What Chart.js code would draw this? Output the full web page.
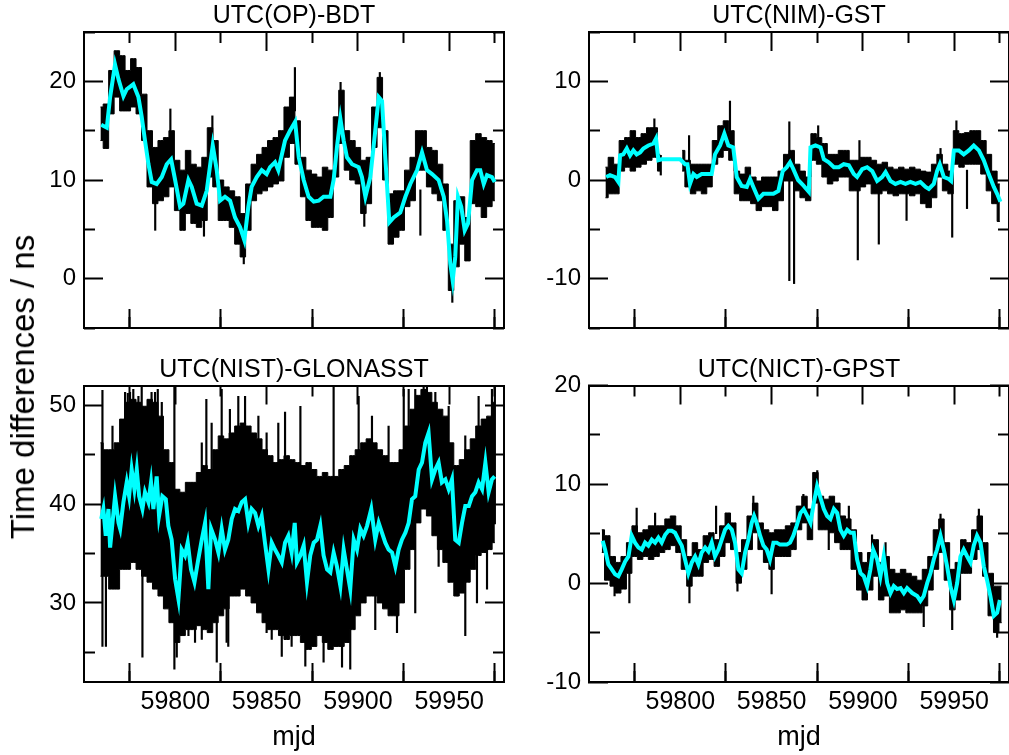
<!DOCTYPE html>
<html>
<head>
<meta charset="utf-8">
<script src="https://cdn.jsdelivr.net/npm/chart.js@4/dist/chart.umd.min.js"></script>
<style>
  body { margin: 0; background: #fff; }
  #page { position: relative; width: 1009px; height: 755px; overflow: hidden; background: #fff; }
  #page canvas { position: absolute; }
  #ylab {
    position: absolute; left: 23px; top: 387px;
    transform: translate(-50%, -50%) rotate(-90deg);
    font-family: "Liberation Sans", Arial, Helvetica, sans-serif;
    font-size: 33px; white-space: nowrap; color: #000;
  }
</style>
</head>
<body>
<div id="page">
  <canvas id="op" width="588" height="340" style="left:0;top:0"></canvas>
  <canvas id="nim" width="588" height="340" style="left:505px;top:0"></canvas>
  <canvas id="nist" width="588" height="415" style="left:0;top:340px"></canvas>
  <canvas id="nict" width="588" height="415" style="left:505px;top:340px"></canvas>
  <div id="ylab">Time differences / ns</div>
</div>
<script>
// axe commun (mjd)
const mjdMin = 59750, mjdMax = 59980;
const mjdMajor = [59800, 59850, 59900, 59950];
const mjdMinor = [59775, 59825, 59875, 59925, 59975];

// grilles des enveloppes (pas de 3 jours)
const gridA = Array.from({ length: 73 }, (_, i) => 59759 + 3 * i);
const gridB = Array.from({ length: 74 }, (_, i) => 59757 + 3 * i);

// ---- UTC(OP)-BDT ----
const opHi = [17.4, 17.7, 21.1, 23.1, 22.6, 21.1, 22.3, 21.4, 18.7, 15.0, 13.3, 14.0, 14.3, 15.0, 12.0, 11.0, 13.0, 11.6, 11.3, 12.3, 15.3, 14.0, 10.0, 9.3, 8.9, 8.3, 6.6, 9.6, 11.6, 12.6, 13.3, 14.0, 14.3, 15.0, 17.4, 18.4,
  16.0, 12.3, 11.0, 10.6, 10.3, 11.3, 11.0, 16.4, 19.1, 15.0, 14.0, 13.3, 12.0, 12.3, 17.4, 20.4, 15.0, 8.6, 8.9, 8.9, 11.0, 12.3, 15.0, 15.0, 13.3, 13.0, 11.6, 9.6, 3.5, 7.9, 8.3, 6.2, 14.0, 14.7, 14.3, 14.0, 13.7];
const opLo = [14.0, 13.2, 16.7, 18.4, 17.0, 17.0, 17.4, 16.7, 14.0, 9.3, 7.6, 7.9, 8.3, 9.3, 6.9, 4.9, 6.6, 5.6, 5.2, 5.9, 10.3, 9.3, 5.9, 5.9, 5.2, 3.5, 2.2, 4.9, 7.9, 8.6, 8.9, 9.3, 9.6, 9.9, 12.3, 13.7,
  11.6, 8.3, 5.9, 5.2, 5.2, 4.9, 6.2, 10.3, 13.7, 11.0, 10.0, 9.6, 6.6, 7.6, 13.3, 15.3, 10.0, 3.5, 4.2, 4.9, 7.3, 7.9, 11.0, 11.0, 9.3, 8.6, 7.9, 4.9, -1.2, 1.2, 3.5, 1.8, 7.6, 7.3, 6.2, 7.3, 7.9];
const opSpikes = [[59789, 4.9, 9.5], [59797.3, 12, 17.2], [59815.7, 4.3, 7], [59820.3, 13, 16.5], [59837.5, 1.5, 4], [59865.5, 17, 21.4],
  [59890.5, 16, 19.9], [59903.5, 5.3, 8], [59912, 18, 20.9], [59934.2, 4.4, 9], [59951.7, -2.4, 0]];
const opMjd = [59759.4, 59762.5, 59764.3, 59767, 59768.9, 59771.6, 59773.4, 59777, 59779.8, 59781.6, 59783.4, 59785.3, 59787.1, 59789.8, 59792.6, 59795.3, 59797.7, 59799.9, 59802.6, 59804.4, 59807.2, 59809, 59811.7, 59814.5, 59817.2, 59820.5, 59822.7, 59824.5, 59827.2, 59830, 59832.7, 59835.5, 59837.8, 59840, 59841.8, 59844.6, 59847.3, 59850, 59851.9, 59854.6, 59856.4, 59860.1, 59862.8, 59865.6,
  59867.6, 59870.3, 59873, 59875.8, 59878.5, 59881.2, 59884.9, 59886.7, 59888.5, 59890.4, 59892.2, 59894, 59896.8, 59900.4, 59902.2, 59904.1, 59906.8, 59909.5, 59911.4, 59913.2, 59915, 59917.2, 59919.6, 59923.2, 59926, 59928.7, 59932.4, 59935.1, 59937.8, 59940.6, 59944.2, 59947, 59948.8, 59950.6, 59951.9, 59953.3, 59954.8, 59956.6, 59958.5, 59960.3, 59962.5, 59965.2, 59967, 59968.9, 59970.7, 59973.4, 59974.9];
const opAvg = [15.6, 15.3, 18.4, 21.7, 20.2, 18.5, 19.2, 19.7, 18.4, 16.4, 14.0, 11.6, 9.8, 9.6, 10.3, 11.6, 12.1, 10.0, 7.3, 7.6, 10.0, 9.3, 7.6, 7.4, 8.9, 13.5, 11.0, 7.9, 8.3, 7.9, 6.2, 5.2, 3.9, 7.3, 9.3, 10.3, 11.0, 10.6, 11.3, 11.8, 11.0, 14.0, 15.0, 15.9,
  12.3, 10.0, 8.3, 7.8, 7.9, 8.3, 8.3, 10.0, 13.3, 16.2, 14.0, 12.3, 11.6, 11.3, 10.3, 8.3, 10.3, 15.0, 18.4, 18.0, 12.3, 5.7, 6.2, 6.7, 8.3, 9.6, 11.0, 12.8, 11.0, 10.6, 10.0, 8.3, 5.9, 1.5, -0.2, 2.2, 8.3, 7.3, 4.9, 5.6, 10.0, 11.0, 11.0, 9.6, 10.5, 10.3, 9.8];

// ---- UTC(NIM)-GST ----
const nimHi = [1.3, 2.3, 1.6, 4.0, 4.3, 5.0, 4.3, 4.7, 5.3, 5.3, 2.6, null, null, null, 3.0, 2.0, 1.6, 1.6, 1.6, 1.6, 4.0, 5.5, 6.0, 5.0, 0.9, 0.6, 1.3, 0.3, -0.1, 0.3, 0.3, 0.3, 0.9, 2.6, 3.0, 1.6, 0.9,
  0.3, 4.7, 4.3, 3.7, 2.6, 2.6, 3.0, 3.0, 2.0, 2.0, 2.3, 2.3, 2.0, 1.6, 1.8, 1.3, 1.1, 1.3, 1.1, 1.3, 1.1, 0.9, 0.8, 1.6, 2.6, 1.6, 0.9, 5.0, 4.7, 4.8, 5.0, 5.0, 4.0, 2.6, 0.9, -0.4];
const nimLo = [-1.8, -1.4, -1.4, 0.9, 1.3, 0.9, 1.3, 1.6, 2.0, 2.3, 0.9, null, null, null, 0.9, -0.7, -1.4, -1.1, -1.4, -0.7, 1.6, 2.3, 3.0, 2.0, -1.4, -2.1, -2.1, -2.4, -3.1, -2.7, -2.7, -3.1, -2.1, -0.1, -0.1, -1.1, -1.8,
  -2.1, 2.0, 1.6, 0.3, -0.4, -0.1, 0.3, 0.3, -1.1, -1.1, -0.7, -0.4, -1.4, -1.4, -1.1, -1.4, -1.6, -1.4, -1.4, -1.6, -1.4, -2.4, -2.8, -1.8, 0.3, -1.1, -1.4, 1.6, 1.3, 1.6, 1.6, 1.6, 0.6, -1.1, -2.4, -4.2];
const nimSpikes = [[59785.8, 3, 6.2], [59789.3, 0.5, 2.5], [59804.8, 1, 4.5], [59827.2, 4, 8.0], [59859.7, -10.2, 5.9], [59862.3, -10.5, 1],
  [59875.5, 3, 5.5], [59897.2, -8.1, 0], [59898.1, 1, 4.0], [59908.7, -6.5, -1], [59923.9, -4.1, -1], [59942.5, 1, 3.2], [59948.9, -5.8, -1],
  [59951.2, 3, 6.0], [59957, -2.9, 1]];
const nimMjd = [59759.4, 59761.5, 59764.3, 59766.1, 59767, 59768.8, 59770.7, 59772.5, 59774.3, 59776.1, 59778, 59779.8, 59782.5, 59785.3, 59786.7, 59788, 59789.8, 59799.9, 59802.6, 59803.9, 59805.3, 59807.2, 59809, 59811.7, 59814.5, 59817.2, 59819, 59821.8, 59824.1, 59826.3, 59829, 59830.9, 59833.6, 59836.4, 59838.2, 59840, 59842.8, 59845.5, 59848.2, 59851, 59853.7, 59856.1, 59858.3, 59860.1, 59861.9, 59864.5,
  59867.6, 59870.4, 59871.3, 59874, 59876.8, 59878.6, 59881.3, 59884.1, 59886.8, 59889.5, 59892.3, 59895, 59896.8, 59899.6, 59902.3, 59905.1, 59907.8, 59910.5, 59912.4, 59915.1, 59917.8, 59920.6, 59923.3, 59926, 59928.8, 59931.5, 59934.3, 59936.1, 59938.8, 59940.6, 59942.1, 59944.3, 59947, 59948.3, 59949.8, 59952.5, 59955.2, 59958, 59960.7, 59963.5, 59966.2, 59968.9, 59971.7, 59973.5, 59975.3];
const nimAvg = [0.3, 0.5, 0.3, -0.2, 2.5, 2.6, 3.2, 2.5, 3.0, 2.6, 2.8, 3.2, 3.5, 3.7, 4.2, 2.0, 2.1, 2.1, 1.6, 1.6, -0.4, 0.6, 0.3, 0.6, 0.6, 0.6, 2.6, 3.5, 4.7, 3.5, 3.3, 0.3, -0.6, -0.7, 0.1, -0.7, -1.9, -1.4, -1.4, -1.4, -1.1, 0.9, 1.3, 1.8, 1.1, 0.0,
  -0.6, -1.2, 3.3, 3.5, 3.3, 2.1, 1.8, 1.3, 1.3, 1.6, 1.5, 0.6, 0.3, 1.1, 1.3, 0.9, -0.1, 0.3, 0.8, -0.1, -0.4, -0.2, -0.4, -0.2, -0.4, -0.2, -0.7, -0.9, -0.4, 0.9, 1.6, 0.3, 0.1, -0.1, 3.0, 3.0, 2.6, 3.0, 3.5, 3.0, 2.0, 0.6, -0.7, -1.4, -2.2];

// ---- UTC(NIST)-GLONASST ----
const nistHi = [46.2, 45.5, 45.5, 46.2, 48.6, 50.3, 50.6, 50.3, 49.9, 50.6, 50.3, 48.9, 45.5, 44.2, 41.5, 41.2, 42.2, 42.2, 43.2, 43.9, 43.5, 45.5, 46.9, 46.6, 47.2, 47.9, 48.2, 47.9, 47.2, 46.6, 45.5, 44.9, 44.2, 44.5, 44.9, 44.5, 44.2,
  43.9, 44.2, 43.5, 42.8, 43.2, 42.8, 42.8, 43.5, 43.9, 44.9, 45.5, 46.2, 46.6, 46.2, 45.5, 44.9, 44.2, 44.2, 45.5, 47.9, 49.6, 51.0, 51.6, 51.3, 50.3, 49.6, 48.9, 46.2, 43.9, 44.5, 45.5, 46.6, 47.9, 48.6, 48.9, 50.3];
const nistLo = [32.7, 32.7, 31.4, 31.4, 33.4, 33.4, 34.1, 33.4, 32.7, 32.1, 31.4, 30.7, 29.4, 28.0, 26.0, 26.7, 27.3, 27.3, 27.7, 27.3, 27.0, 28.0, 28.7, 29.4, 30.7, 30.7, 31.4, 30.7, 30.0, 29.0, 28.0, 27.3, 27.3, 26.7, 26.3, 26.7, 26.7,
  26.0, 25.3, 25.6, 26.7, 26.0, 25.3, 25.6, 25.6, 26.0, 27.3, 28.7, 30.0, 30.7, 30.7, 30.0, 29.4, 28.7, 28.7, 30.0, 33.4, 35.4, 38.1, 39.5, 38.8, 36.8, 35.4, 34.1, 32.1, 30.7, 31.0, 32.1, 33.4, 34.8, 35.1, 35.4, 36.1];
const nistSpikes = [[59760.1, 25.6, 51.5], [59762, 25.6, 35], [59765.6, 33, 47.9], [59772.5, 40, 51.3], [59774, 40, 51.2], [59775.2, 40, 51.3],
  [59777, 40, 51.6], [59779.8, 40, 50.9], [59781.6, 40, 52], [59782, 24.5, 35], [59787, 40, 51.3], [59788.9, 40, 51.3], [59790.4, 40, 51.6],
  [59792.6, 40, 50.3], [59799.5, 23.3, 52], [59800.8, 24.5, 35], [59803.5, 26.7, 35], [59807.2, 26.7, 35], [59810.8, 26.0, 35],
  [59814.5, 26.3, 46.2], [59817, 35, 50.6], [59819.9, 35, 48.2], [59822.7, 24.0, 35], [59825.4, 35, 51.6], [59828.1, 26, 35], [59829, 25.6, 35],
  [59829.9, 35, 49.6], [59834.5, 35, 50.9], [59838.2, 35, 50.9], [59845.5, 35, 48.9], [59850, 27.0, 47.2], [59852.8, 26.3, 35], [59856.4, 35, 48.2],
  [59858.3, 24.6, 35], [59860.1, 35, 49.3], [59863.7, 25.6, 35], [59868.5, 35, 49.9],
  [59871.2, 23.6, 35], [59881.2, 24.0, 35], [59886.7, 35, 52], [59891.3, 23.5, 35], [59895.8, 23.3, 35], [59900.4, 35, 50.9], [59907.7, 35, 48.9],
  [59909.5, 27.3, 35], [59916.8, 35, 47.9], [59921.4, 27.0, 35], [59925.1, 35, 51.6], [59927.8, 35, 51.6], [59931.4, 29.0, 51.6], [59936, 40, 52],
  [59937.8, 40, 52], [59942.4, 40, 51.3], [59944.2, 33.7, 40], [59949.7, 32.1, 49.9], [59954.3, 30.7, 38], [59958.8, 26.7, 46.9],
  [59965.2, 30.0, 38], [59966.1, 38, 50.9], [59970.7, 31.4, 40], [59973.4, 38, 51.6], [59975, 38, 52]];
const nistMjd = [59759.4, 59760.6, 59761.9, 59763.4, 59764.3, 59765.6, 59767, 59768.9, 59769.8, 59771.6, 59773.4, 59774.7, 59776.1, 59777.6, 59778.9, 59780.2, 59782, 59783.4, 59785.3, 59786.7, 59788, 59789.8, 59791.1, 59792.9, 59794.8, 59796.2, 59798, 59799.9, 59801.7, 59803.5, 59805.3, 59806.8, 59808.6, 59810.5, 59812.3, 59814.5, 59816.3, 59818.1, 59819.6, 59821.8, 59823.6, 59825.4, 59827.2, 59829, 59830.9, 59832.7, 59834.5, 59836.4, 59838.2, 59840, 59841.8, 59843.7, 59845.5, 59847.3, 59849.1, 59851, 59852.8, 59854.6, 59856.4, 59858.3, 59860.1, 59861.9, 59863.7,
  59865.4, 59866.6, 59868.5, 59870.3, 59872.1, 59873.9, 59875.8, 59877.6, 59879.4, 59881.2, 59883.1, 59884.9, 59886.7, 59888.5, 59890.4, 59892.2, 59894, 59895.8, 59897.7, 59899.5, 59901.3, 59903.1, 59905, 59907.3, 59909.5, 59911.4, 59913.2, 59915, 59916.8, 59918.7, 59920.5, 59922.3, 59924.1, 59926, 59927.8, 59929.6, 59931.4, 59933.3, 59935.1, 59936.9, 59938.7, 59940.6, 59942.4, 59944.2, 59946, 59947.9, 59949.7, 59951.5, 59953.3, 59955.2, 59957, 59958.8, 59960.7, 59962.5, 59964.3, 59966.1, 59968, 59969.8, 59971.6, 59973.4, 59974.9];
const nistAvg = [38.5, 39.5, 36.8, 39.5, 35.6, 38.1, 40.8, 38.1, 37.5, 40.2, 42.2, 40.8, 43.5, 41.5, 43.5, 40.8, 39.5, 41.2, 40.2, 42.2, 39.5, 42.8, 38.8, 40.8, 40.5, 37.8, 36.4, 32.4, 30.4, 35.4, 34.8, 36.1, 33.4, 32.1, 34.1, 36.4, 38.1, 31.4, 37.5, 36.4, 35.1, 37.5, 35.4, 36.4, 38.5, 39.5, 39.3, 40.2, 40.5, 38.1, 39.5, 39.1, 37.8, 38.8, 36.1, 33.4, 36.1, 35.4, 34.8, 34.1, 36.1, 36.8, 35.1,
  38.1, 34.1, 34.8, 35.8, 32.1, 34.8, 36.1, 36.4, 37.8, 34.8, 33.4, 33.1, 35.1, 33.7, 31.7, 35.4, 33.4, 31.4, 36.4, 35.4, 37.5, 36.8, 37.8, 39.5, 36.4, 38.1, 37.1, 36.1, 35.4, 35.1, 33.7, 35.4, 36.4, 37.1, 38.1, 40.5, 40.8, 43.5, 44.2, 46.2, 47.2, 42.5, 43.5, 44.2, 42.2, 42.5, 41.5, 42.5, 36.4, 36.1, 38.1, 39.8, 39.8, 40.8, 41.2, 42.2, 41.5, 44.2, 41.2, 42.5, 42.8];

// ---- UTC(NICT)-GPST ----
const nictHi = [5.4, 4.8, 2.7, 2.1, 2.7, 4.1, 5.8, 5.1, 5.4, 5.8, 5.8, 5.8, 6.5, 6.8, 5.8, 4.4, 2.7, 4.1, 3.4, 4.8, 5.1, 4.4, 5.8, 7.1, 6.1, 3.1, 4.4, 6.8, 8.1, 6.1, 5.4, 5.1, 5.4, 5.4, 5.8, 6.1, 7.8, 8.8,
  7.5, 11.2, 8.8, 8.5, 8.8, 8.1, 6.8, 6.5, 5.4, 3.1, 2.1, 3.1, 4.4, 2.1, 2.7, 1.4, 1.0, 1.4, 1.0, 0.7, 0.3, 1.4, 2.7, 5.4, 6.5, 4.1, 1.4, 2.1, 4.4, 4.1, 5.4, 6.8, 4.1, 1.0, -0.3, -0.3];
const nictLo = [3.1, 0.3, -0.3, -1.0, -0.6, 1.0, 2.7, 2.4, 2.7, 2.4, 2.7, 3.1, 3.4, 3.8, 3.1, 1.4, -0.3, 0.7, 0.7, 2.1, 2.4, 1.7, 2.7, 4.1, 3.4, 0.0, 1.4, 3.4, 5.1, 3.4, 2.1, 1.4, 2.7, 2.7, 2.7, 3.4, 5.4, 6.1,
  4.4, 8.1, 5.4, 5.4, 5.1, 4.1, 3.4, 3.4, 1.4, -0.7, -1.7, -0.7, 0.7, -1.7, -1.3, -3.0, -3.0, -2.7, -3.0, -3.0, -3.0, -2.3, -0.7, 1.4, 3.1, 0.3, -2.7, -1.7, 1.0, 1.0, 2.4, 3.4, 0.7, -3.3, -5.0, -4.0];
const nictSpikes = [[59764, -1.3, 0.5], [59772.1, -2.0, 1], [59776.1, 5, 7.6], [59786.2, 5, 7.1], [59805, -2.0, 0], [59819.6, 5, 7.8],
  [59831.3, -0.8, 1], [59840, 7, 8.8], [59850, -1.1, 1.5], [59867.4, 8, 9.0], [59875, 10, 11.4], [59881.3, 3.4, 5.5], [59892.3, 6, 7.8],
  [59905, 3.5, 4.9], [59912.4, 2.5, 4.1], [59933.3, -4.4, -2], [59942.5, 6, 7.0], [59948.9, -4.7, -2], [59963.5, 6, 7.5], [59973.5, -5.5, -4]];
const nictMjd = [59757.5, 59758.8, 59760.6, 59762.5, 59764.3, 59766.1, 59767.9, 59769.8, 59771.6, 59773.4, 59775.2, 59777.1, 59778.9, 59780.7, 59782.5, 59784.4, 59786.2, 59788, 59789.8, 59791.7, 59793.5, 59795.3, 59797.1, 59799, 59800.8, 59802.6, 59804.4, 59806.3, 59808.1, 59809.9, 59811.7, 59813.6, 59815.4, 59817.2, 59819, 59820.9, 59822.7, 59824.5, 59826.3, 59828.2, 59830, 59831.8, 59833.6, 59835.5, 59837.3, 59839.1, 59840.4, 59841.8, 59843.7, 59845.5, 59847.3, 59849.1, 59851, 59852.8, 59854.6, 59856.4, 59858.3, 59860.1, 59861.9, 59863.7,
  59865.8, 59867.6, 59869.5, 59871.3, 59873.1, 59874.9, 59876.8, 59878.6, 59880.4, 59882.2, 59884.1, 59885.9, 59887.7, 59889.5, 59891.4, 59893.2, 59895, 59896.8, 59898.7, 59900.5, 59902.3, 59904.1, 59905.6, 59907.8, 59909.6, 59911.4, 59913.3, 59915.1, 59916.9, 59918.7, 59920.6, 59922.4, 59924.2, 59927, 59929.7, 59931.5, 59933.3, 59935.2, 59937, 59938.8, 59940.6, 59942.5, 59944.3, 59946.1, 59947.9, 59949.8, 59951.6, 59953.4, 59955.2, 59957.1, 59958.9, 59960.7, 59962.5, 59964.4, 59966.2, 59968, 59969.8, 59971.7, 59973.5, 59975];
const nictAvg = [4.3, 3.4, 1.9, 1.4, 0.9, 0.7, 1.4, 2.2, 2.7, 4.8, 4.1, 3.6, 3.4, 4.1, 3.8, 4.4, 4.1, 4.6, 4.1, 4.9, 5.3, 5.3, 5.1, 4.4, 3.8, 2.4, 1.0, 2.1, 2.7, 1.9, 3.1, 3.6, 3.2, 4.1, 2.7, 3.4, 4.4, 5.4, 5.8, 5.4, 4.1, 1.4, 1.0, 3.1, 4.4, 6.1, 6.8, 6.1, 4.8, 3.8, 3.4, 2.4, 4.1, 4.1, 3.9, 3.9, 3.9, 4.1, 4.8, 5.8,
  7.1, 7.5, 6.8, 6.1, 8.1, 9.8, 8.6, 7.5, 6.8, 6.5, 7.5, 7.1, 5.4, 4.8, 5.4, 5.1, 5.1, 2.4, 1.0, 0.7, -0.3, 1.4, 3.4, 2.4, 0.7, 2.7, 0.0, -1.0, -0.3, -0.6, -0.5, -1.0, -0.5, -1.0, -1.3, -1.8, -1.3, 0.0, 1.0, 2.4, 3.4, 4.8, 3.4, 1.7, -0.3, -1.7, 0.0, 2.7, 3.4, 2.7, 2.1, 3.8, 4.8, 4.1, 1.7, 0.3, -1.3, -3.3, -3.0, -1.7];

const FONT = '"Liberation Sans", Arial, Helvetica, sans-serif';
const pts = (xs, ys) => xs.map((x, i) => ({ x, y: ys[i] }));

// axes « cadre » : graduations intérieures sur les quatre côtés
const tailleFixe = (size) => (s) => {
  if (s.isHorizontal()) s.height = size; else s.width = size;
  s.paddingTop = s.paddingBottom = s.paddingLeft = s.paddingRight = 0;
};
const graduations = (vals) => (s) => { s.ticks = vals.map((v) => ({ value: v })); };
function axe(position, min, max, vals, longueur, extra) {
  return Object.assign({
    type: 'linear', position, min, max, offset: false, weight: 0,
    grid: { drawOnChartArea: false, drawTicks: true, tickLength: -longueur, tickWidth: 2, tickColor: '#000' },
    border: { display: false },
    ticks: { display: false },
    afterBuildTicks: graduations(vals),
    afterFit: tailleFixe(0),
  }, extra);
}

function panneau(p) {
  const basLabels = p.bottom;
  const bord = { display: true, color: '#000', width: 2 };
  new Chart(document.getElementById(p.id), {
    type: 'line',
    data: {
      datasets: [
        { data: pts(p.mjd, p.avg), borderColor: '#00ffff', borderWidth: 4, pointRadius: 0, tension: 0, order: 0 },
        { type: 'bar', data: p.spikes.map(([x, lo, hi]) => ({ x, y: [lo, hi] })), backgroundColor: '#000', borderWidth: 0, barThickness: 1.5, order: 1 },
        { data: pts(p.grid, p.hi), borderColor: '#000', backgroundColor: '#000', borderWidth: 1, pointRadius: 0, stepped: 'middle', fill: '+1', order: 2 },
        { data: pts(p.grid, p.lo), borderColor: '#000', borderWidth: 1, pointRadius: 0, stepped: 'middle', fill: false, order: 2 },
      ],
    },
    options: {
      responsive: false,
      animation: false,
      events: [],
      layout: { padding: { left: 0, right: 0, top: 0, bottom: basLabels ? 0 : 12 } },
      plugins: {
        legend: { display: false },
        tooltip: { enabled: false },
        title: {
          display: true, text: p.title, color: '#000',
          font: { family: FONT, size: 25, weight: 'normal' },
          padding: basLabels ? { top: 15.5, bottom: 0 } : { top: 1.5, bottom: 0.5 },
        },
      },
      scales: {
        x: axe('bottom', mjdMin, mjdMax, mjdMajor, 19, {
          weight: 1,
          border: bord,
          ticks: { display: basLabels, font: { family: FONT, size: 25 }, color: '#000', padding: 24.5, callback: (v) => String(v) },
          title: { display: basLabels, text: 'mjd', color: '#000', font: { family: FONT, size: 27 }, padding: { top: 0, bottom: 0.8 } },
          afterFit: tailleFixe(basLabels ? 73 : 0),
        }),
        xm: axe('bottom', mjdMin, mjdMax, mjdMinor, 11),
        xt: axe('top', mjdMin, mjdMax, mjdMajor, 19, { border: bord }),
        xtm: axe('top', mjdMin, mjdMax, mjdMinor, 11),
        y: axe('left', p.yMin, p.yMax, p.yMajor, 19, {
          weight: 1,
          border: bord,
          ticks: { display: true, font: { family: FONT, size: 24 }, color: '#000', padding: 27, callback: (v) => String(v) },
          afterFit: tailleFixe(84),
        }),
        ym: axe('left', p.yMin, p.yMax, p.yMinor, 11),
        yr: axe('right', p.yMin, p.yMax, p.yMajor, 19, { weight: 1, border: bord, afterFit: tailleFixe(84) }),
        yrm: axe('right', p.yMin, p.yMax, p.yMinor, 11),
      },
    },
  });
}

panneau({ id: 'op', title: 'UTC(OP)-BDT', bottom: false, yMin: -5, yMax: 25, yMajor: [0, 10, 20], yMinor: [-5, 5, 15, 25],
  grid: gridA, hi: opHi, lo: opLo, spikes: opSpikes, mjd: opMjd, avg: opAvg });
panneau({ id: 'nim', title: 'UTC(NIM)-GST', bottom: false, yMin: -15, yMax: 15, yMajor: [-10, 0, 10], yMinor: [-15, -5, 5, 15],
  grid: gridA, hi: nimHi, lo: nimLo, spikes: nimSpikes, mjd: nimMjd, avg: nimAvg });
panneau({ id: 'nist', title: 'UTC(NIST)-GLONASST', bottom: true, yMin: 22, yMax: 52, yMajor: [30, 40, 50], yMinor: [25, 35, 45],
  grid: gridA, hi: nistHi, lo: nistLo, spikes: nistSpikes, mjd: nistMjd, avg: nistAvg });
panneau({ id: 'nict', title: 'UTC(NICT)-GPST', bottom: true, yMin: -10, yMax: 20, yMajor: [-10, 0, 10, 20], yMinor: [-5, 5, 15],
  grid: gridB, hi: nictHi, lo: nictLo, spikes: nictSpikes, mjd: nictMjd, avg: nictAvg });
</script>
</body>
</html>
